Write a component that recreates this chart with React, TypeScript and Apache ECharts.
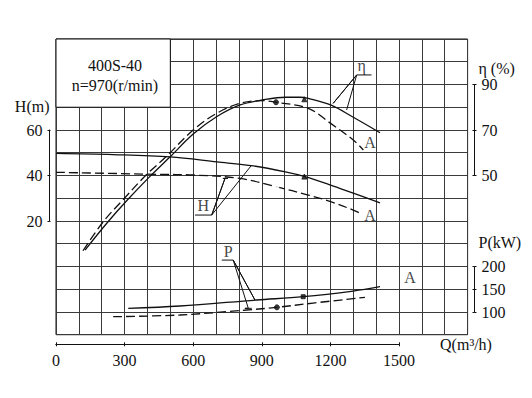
import React, { useEffect, useRef } from "react";
import * as echarts from "echarts";

// ---- data (Q in m3/h) ----
const etaCurve: [number, number][] = [
  [127, 17.2], [222, 29.0], [312, 39.2], [411, 49.6], [499, 58.2], [600, 68.2], [702, 75.8],
  [805, 81.0], [904, 83.2], [1003, 84.4], [1067, 84.4], [1103, 83.9], [1201, 81.0], [1300, 75.6], [1417, 68.8],
];
const etaCurveA: [number, number][] = [
  [118, 16.9], [207, 29.7], [292, 39.2], [394, 50.2], [481, 58.2], [600, 70.0], [702, 77.3],
  [805, 81.7], [904, 82.9], [962, 82.2], [1103, 79.5], [1201, 72.9], [1300, 65.6], [1344, 61.2],
];
const headCurve: [number, number][] = [
  [0, 49.7], [250, 49.2], [499, 48.2], [703, 46.0], [863, 44.2], [1003, 41.6], [1089, 39.5],
  [1201, 35.8], [1300, 32.2], [1417, 28.0],
];
const headCurveA: [number, number][] = [
  [0, 41.4], [447, 40.5], [600, 40.2], [805, 38.7], [962, 35.1], [1103, 31.4], [1201, 28.5],
  [1300, 24.8], [1337, 23.1],
];
const powerCurve: [number, number][] = [
  [316, 108], [542, 113.1], [878, 126.3], [1081, 133.5], [1300, 146], [1417, 155.5],
];
const powerCurveA: [number, number][] = [
  [250, 89.6], [542, 93.3], [834, 104.3], [966, 110.2], [1125, 119.5], [1351, 132.2],
];

// rated-point marks
const etaMark: [number, number][] = [[1086, 83.5]];
const etaMarkA: [number, number][] = [[962, 82.2]];
const headMark: [number, number][] = [[1086, 39.5]];
const headMarkA: [number, number][] = [[962, 35.1]];
const powerMark: [number, number][] = [[1081, 133.5]];
const powerMarkA: [number, number][] = [[966, 110.2]];

// leader lines (data coordinates)
const etaLeader: [number, number][] = [[1380, 94.2], [1315, 94.2], [1212, 81.7], [1315, 94.2], [1271, 78.8]];
const headLeader: [number, number][] = [[608, 22.6], [681, 22.6], [739, 38.7], [730, 38.7], [752, 38.7], [739, 38.7], [681, 22.6], [856, 44.6]];
const powerLeader: [number, number][] = [[725, 214], [775, 214], [870, 126.3], [775, 214], [841, 108], [826, 108], [856, 108]];

// curve labels
const etaLabels = [{ name: "η", value: [1337, 98.4] }, { name: "A", value: [1373, 64.4] }];
const headLabels = [{ name: "H", value: [644, 26.6] }, { name: "A", value: [1373, 22.6] }];
const powerLabels = [{ name: "P", value: [753, 233] }, { name: "A", value: [1548, 176] }];

// axis ticks
const qTicks = { min: 0, max: 1500, interval: 300 };
const hTicks = { min: 20, max: 60, interval: 20 };
const etaTicks = { min: 50, max: 90, interval: 20 };
const pTicks = { min: 100, max: 200, interval: 50 };

const titleLines = ["400S-40", "n=970(r/min)"];

const FONT = "Liberation Serif";
const INK = "#111";

export default function App() {
  const ref = useRef<HTMLDivElement>(null);
  useEffect(() => {
    const chart = echarts.init(ref.current!, null, { renderer: "svg" });
    const txt = { fontFamily: FONT, fontSize: 16, color: INK };
    const plain = (v: number) => String(v);
    const hidden = { show: false };
    const solid = { color: INK, width: 1.3 };
    const dashed = { color: INK, width: 1.3, type: [9, 4] as any };
    const tickStyle = { lineStyle: { color: INK, width: 1 } };
    const lineSeries = (data: any, y: number, ls: any, extra: any = {}) => ({
      type: "line", xAxisIndex: 0, yAxisIndex: y, data, smooth: 0.35, symbol: "none",
      lineStyle: ls, silent: true, z: 3, ...extra,
    });
    const leader = (data: any, y: number) => ({
      type: "line", xAxisIndex: 0, yAxisIndex: y, data, smooth: false, symbol: "none",
      lineStyle: { color: INK, width: 1 }, silent: true, z: 3,
    });
    const mark = (data: any, y: number, symbol: string, size = 5) => ({
      type: "scatter", xAxisIndex: 0, yAxisIndex: y, data, symbol, symbolSize: size,
      itemStyle: { color: symbol === "emptyCircle" ? "#fff" : INK, borderColor: INK, borderWidth: 1 }, silent: true, z: 4,
    });
    const labels = (data: any, y: number) => ({
      type: "scatter", xAxisIndex: 0, yAxisIndex: y, data, symbolSize: 0.01,
      itemStyle: { color: "rgba(0,0,0,0)" },
      label: { show: true, position: "inside", formatter: "{b}", ...txt }, silent: true, z: 5,
    });

    chart.setOption({
      animation: false,
      backgroundColor: "#fff",
      grid: [
        { left: 56, top: 39, width: 411.6, height: 295.7, show: true, borderColor: INK, borderWidth: 1, backgroundColor: "transparent" },
        { left: 56, top: 344.3, width: 343.05, height: 0 },
        { left: 49.5, top: 130, width: 0, height: 91 },
        { left: 474.5, top: 84.5, width: 0, height: 91 },
        { left: 474.5, top: 266.7, width: 0, height: 45.5 },
      ],
      xAxis: [
        {
          gridIndex: 0, type: "value", min: 0, max: 1800, interval: 100,
          axisLine: hidden, axisTick: hidden, axisLabel: hidden,
          splitLine: { show: true, lineStyle: { color: "#3a3a3a", width: 1 } },
        },
        {
          gridIndex: 1, type: "value", position: "bottom", ...qTicks,
          axisLine: { show: true, lineStyle: { color: INK, width: 1 } },
          axisTick: { show: true, length: 2, ...tickStyle },
          axisLabel: { show: true, margin: 8, formatter: plain, ...txt },
          splitLine: hidden,
          name: "Q(m³/h)", nameLocation: "end", nameGap: 41,
          nameTextStyle: { ...txt, align: "left", verticalAlign: "middle", padding: [10, 0, 0, 0] },
        },
        {
          gridIndex: 1, type: "value", position: "top", ...qTicks,
          axisLine: { show: true, lineStyle: { color: INK, width: 1 } },
          axisTick: { show: true, length: 2, ...tickStyle },
          axisLabel: hidden, splitLine: hidden,
        },
        { gridIndex: 2, type: "value", show: false },
        { gridIndex: 3, type: "value", show: false },
        { gridIndex: 4, type: "value", show: false },
      ],
      yAxis: [
        {
          gridIndex: 0, type: "value", min: -30, max: 100, interval: 10,
          axisLine: hidden, axisTick: hidden, axisLabel: hidden,
          splitLine: { show: true, lineStyle: { color: "#3a3a3a", width: 1 } },
        },
        { gridIndex: 0, type: "value", min: -20, max: 110, show: false },
        { gridIndex: 0, type: "value", min: 50, max: 700, show: false },
        { gridIndex: 1, type: "value", show: false },
        // H axis
        {
          gridIndex: 2, type: "value", position: "left", ...hTicks,
          axisLine: { show: true, lineStyle: { color: INK, width: 1 } },
          axisTick: { show: true, length: 2, ...tickStyle },
          axisLabel: { show: true, margin: 7, formatter: plain, ...txt },
          splitLine: hidden,
          name: "H(m)", nameLocation: "end", nameGap: 24,
          nameTextStyle: { ...txt, align: "right", verticalAlign: "middle" },
        },
        {
          gridIndex: 2, type: "value", position: "right", ...hTicks,
          axisLine: { show: false }, axisTick: { show: true, length: 1, ...tickStyle },
          axisLabel: hidden, splitLine: hidden,
        },
        // eta axis
        {
          gridIndex: 3, type: "value", position: "right", ...etaTicks,
          axisLine: { show: true, lineStyle: { color: INK, width: 1 } },
          axisTick: { show: true, length: 2, ...tickStyle },
          axisLabel: { show: true, margin: 7, formatter: plain, ...txt },
          splitLine: hidden,
          name: "η (%)", nameLocation: "end", nameGap: 13,
          nameTextStyle: { ...txt, align: "left", verticalAlign: "middle", padding: [0, 0, 0, 4] },
        },
        {
          gridIndex: 3, type: "value", position: "left", ...etaTicks,
          axisLine: { show: false }, axisTick: { show: true, length: 2, ...tickStyle },
          axisLabel: hidden, splitLine: hidden,
        },
        // P axis
        {
          gridIndex: 4, type: "value", position: "right", ...pTicks,
          axisLine: { show: true, lineStyle: { color: INK, width: 1 } },
          axisTick: { show: true, length: 2, ...tickStyle },
          axisLabel: { show: true, margin: 7, formatter: plain, ...txt },
          splitLine: hidden,
          name: "P(kW)", nameLocation: "end", nameGap: 24,
          nameTextStyle: { ...txt, align: "left", verticalAlign: "middle", padding: [0, 0, 0, 4] },
        },
        {
          gridIndex: 4, type: "value", position: "left", ...pTicks,
          axisLine: { show: false }, axisTick: { show: true, length: 2, ...tickStyle },
          axisLabel: hidden, splitLine: hidden,
        },
      ],
      graphic: titleLines.map((t, i) => ({
        type: "text", x: 115, y: 65 + i * 20, z: 100,
        style: { text: t, font: `16px "${FONT}"`, fill: INK, align: "center", verticalAlign: "middle" },
      })),
      series: [
        lineSeries(headCurve, 0, solid, {
          markArea: {
            silent: true,
            itemStyle: { color: "#fff", borderColor: INK, borderWidth: 1 },
            data: [[{ coord: [0, 70] }, { coord: [500, 100] }]],
          },
        }),
        lineSeries(headCurveA, 0, dashed),
        lineSeries(etaCurve, 1, solid),
        lineSeries(etaCurveA, 1, dashed),
        lineSeries(powerCurve, 2, solid),
        lineSeries(powerCurveA, 2, dashed),
        leader(etaLeader, 1),
        leader(headLeader, 0),
        leader(powerLeader, 2),
        mark(etaMark, 1, "triangle", 5),
        mark(etaMarkA, 1, "circle", 5),
        mark(headMark, 0, "triangle", 5),
        mark(headMarkA, 0, "emptyCircle", 5),
        mark(powerMark, 2, "rect", 4),
        mark(powerMarkA, 2, "circle", 5),
        labels(etaLabels, 1),
        labels(headLabels, 0),
        labels(powerLabels, 2),
      ],
    });
    return () => chart.dispose();
  }, []);
  return (
    <div
      ref={ref}
      style={{ position: "fixed", left: 0, top: 0, width: 532, height: 398, background: "#fff" }}
    />
  );
}
